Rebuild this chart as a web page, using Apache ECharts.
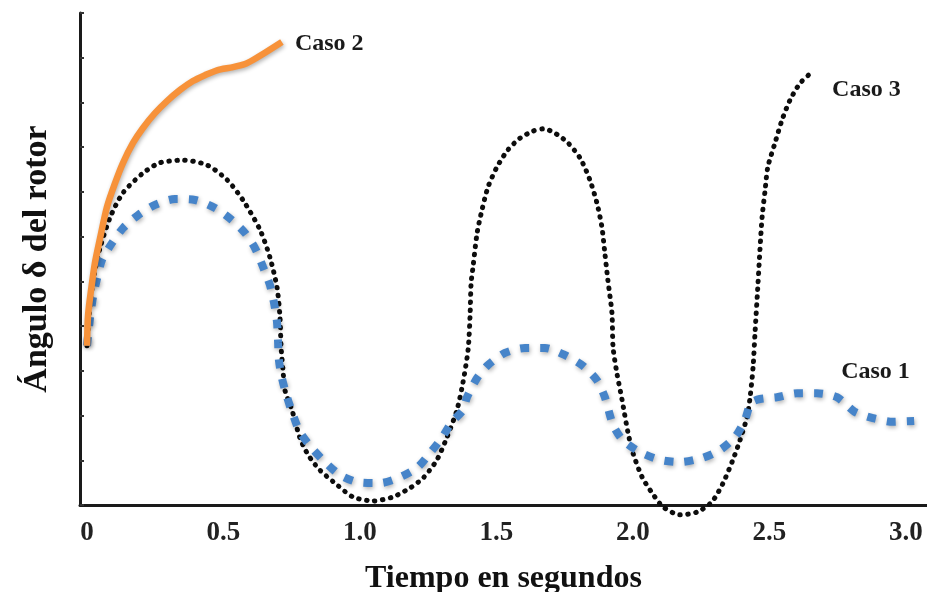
<!DOCTYPE html>
<html><head><meta charset="utf-8">
<script src="https://cdn.jsdelivr.net/npm/echarts@6/dist/echarts.min.js"></script>
<style>html,body{margin:0;padding:0;background:#fff}#c{width:927px;height:592px}</style>
</head><body><div id="c"></div>
<script>
const seriesNames = ['Caso 1', 'Caso 2', 'Caso 3'];
const xTickValues = [0, 0.5, 1, 1.5, 2, 2.5, 3];
const xTickLabels = ['0', '0.5', '1.0', '1.5', '2.0', '2.5', '3.0'];
const xAxisTitle = 'Tiempo en segundos';
const yAxisTitle = 'Ángulo δ del rotor';

const caso1X = [0, 0.011, 0.022, 0.037, 0.055, 0.092, 0.132, 0.187, 0.249, 0.322, 0.396, 0.469, 0.531, 0.579, 0.615, 0.645, 0.670, 0.685, 0.696, 0.700, 0.703, 0.714, 0.733, 0.755, 0.780, 0.824, 0.872, 0.927, 0.993, 1.073, 1.139, 1.209, 1.256, 1.300, 1.337, 1.377, 1.392, 1.429, 1.469, 1.531, 1.604, 1.678, 1.751, 1.817, 1.868, 1.897, 1.927, 1.963, 2.026, 2.099, 2.172, 2.253, 2.319, 2.374, 2.410, 2.432, 2.465, 2.527, 2.601, 2.674, 2.747, 2.813, 2.879, 2.952, 3.030];
const caso1Y = [3.56, 4.18, 4.65, 5.07, 5.48, 5.86, 6.19, 6.48, 6.71, 6.84, 6.82, 6.64, 6.37, 6.08, 5.75, 5.32, 4.92, 4.52, 4.09, 3.64, 3.24, 2.84, 2.41, 2.01, 1.63, 1.27, 0.96, 0.67, 0.51, 0.49, 0.60, 0.83, 1.16, 1.50, 1.86, 2.12, 2.41, 2.84, 3.13, 3.40, 3.51, 3.51, 3.35, 3.11, 2.79, 2.41, 1.79, 1.45, 1.18, 1.01, 0.96, 1.05, 1.23, 1.52, 1.90, 2.28, 2.37, 2.41, 2.50, 2.50, 2.41, 2.08, 1.94, 1.86, 1.88];

const caso2X = [0, 0.004, 0.015, 0.029, 0.048, 0.073, 0.103, 0.132, 0.168, 0.205, 0.249, 0.293, 0.341, 0.388, 0.432, 0.476, 0.535, 0.579, 0.608, 0.652, 0.714];
const caso2Y = [3.56, 4.25, 4.81, 5.41, 5.97, 6.66, 7.20, 7.65, 8.09, 8.43, 8.76, 9.03, 9.28, 9.48, 9.61, 9.72, 9.79, 9.86, 9.95, 10.11, 10.35];

const caso3X = [0, 0.011, 0.026, 0.048, 0.084, 0.132, 0.205, 0.267, 0.352, 0.440, 0.513, 0.571, 0.634, 0.670, 0.696, 0.707, 0.711, 0.718, 0.725, 0.751, 0.780, 0.810, 0.853, 0.916, 0.974, 1.048, 1.121, 1.183, 1.231, 1.282, 1.319, 1.355, 1.377, 1.396, 1.403, 1.407, 1.414, 1.429, 1.447, 1.469, 1.502, 1.542, 1.586, 1.634, 1.670, 1.707, 1.758, 1.806, 1.842, 1.868, 1.886, 1.897, 1.908, 1.923, 1.927, 1.941, 1.960, 1.982, 2.000, 2.033, 2.070, 2.110, 2.172, 2.234, 2.289, 2.330, 2.366, 2.392, 2.418, 2.429, 2.440, 2.447, 2.458, 2.465, 2.473, 2.484, 2.494, 2.520, 2.546, 2.575, 2.612, 2.656];
const caso3Y = [3.56, 4.47, 5.14, 5.75, 6.42, 6.98, 7.42, 7.65, 7.71, 7.60, 7.27, 6.82, 6.15, 5.54, 4.87, 4.20, 3.53, 3.02, 2.57, 2.12, 1.50, 1.12, 0.78, 0.45, 0.18, 0.09, 0.18, 0.38, 0.60, 1.01, 1.52, 2.12, 2.73, 3.47, 4.20, 4.96, 5.32, 6.08, 6.60, 7.11, 7.56, 7.94, 8.20, 8.36, 8.41, 8.34, 8.12, 7.76, 7.27, 6.75, 6.22, 5.63, 5.03, 4.29, 3.53, 2.95, 2.35, 1.61, 1.16, 0.63, 0.27, -0.04, -0.22, -0.16, 0.07, 0.49, 1.01, 1.45, 1.97, 2.41, 3.09, 3.85, 4.96, 5.70, 6.44, 7.04, 7.56, 8.09, 8.61, 9.05, 9.43, 9.68];

const pairs = (xs, ys) => xs.map((x, i) => [x, ys[i]]);
const serif = '"Liberation Serif", "Times New Roman", serif';
const labelStyle = { fontFamily: serif, fontWeight: 'bold', fontSize: 24, color: '#1a1a1a' };

const chart = echarts.init(document.getElementById('c'), null, { renderer: 'canvas' });
chart.setOption({
  backgroundColor: '#ffffff',
  animation: false,
  grid: { left: 80, right: 0, top: 13, bottom: 87, containLabel: false, outerBoundsMode: 'none' },
  xAxis: {
    type: 'value', min: -0.0256, max: 3.077, splitNumber: 6,
    name: xAxisTitle, nameLocation: 'middle', nameGap: 58,
    nameTextStyle: { fontFamily: serif, fontWeight: 'bold', fontSize: 32, color: '#111' },
    axisLine: { onZero: false, lineStyle: { color: '#1a1a1a', width: 3 } },
    axisTick: { show: false },
    splitLine: { show: false },
    axisLabel: {
      margin: 15, fontFamily: serif, fontWeight: 'bold', fontSize: 27, color: '#222',
      formatter: v => { const i = xTickValues.findIndex(t => Math.abs(t - v) < 1e-6); return i >= 0 ? xTickLabels[i] : ''; }
    }
  },
  yAxis: {
    type: 'value', min: 0, max: 11, interval: 1,
    name: yAxisTitle, nameLocation: 'middle', nameGap: 26, nameRotate: 90,
    nameTextStyle: { fontFamily: serif, fontWeight: 'bold', fontSize: 34, color: '#111' },
    axisLine: { onZero: false, lineStyle: { color: '#1a1a1a', width: 3 } },
    axisTick: { show: true, inside: true, length: 4, lineStyle: { color: '#333', width: 2 } },
    axisLabel: { show: false },
    splitLine: { show: false }
  },
  series: [
    {
      name: seriesNames[2], type: 'line', data: pairs(caso3X, caso3Y), symbol: 'none', smooth: 0.25, clip: false, z: 2,
      lineStyle: { color: '#0d0d0d', width: 5, type: [0.5, 7.5], cap: 'round' },
      endLabel: { show: true, formatter: seriesNames[2], distance: 20, offset: [0, 18], ...labelStyle }
    },
    {
      name: seriesNames[0], type: 'line', data: pairs(caso1X, caso1Y), symbol: 'none', smooth: 0.25, clip: false, z: 3,
      lineStyle: { color: '#4684c9', width: 8, type: [9, 11], shadowColor: 'rgba(0,0,0,0.3)', shadowBlur: 4, shadowOffsetX: 1, shadowOffsetY: 2 },
      endLabel: { show: true, formatter: seriesNames[0], distance: 8, offset: [-81, -49], ...labelStyle }
    },
    {
      name: seriesNames[1], type: 'line', data: pairs(caso2X, caso2Y), symbol: 'none', smooth: 0.25, clip: false, z: 4,
      lineStyle: { color: '#f7923a', width: 6.5, shadowColor: 'rgba(0,0,0,0.3)', shadowBlur: 4, shadowOffsetX: 1, shadowOffsetY: 2 },
      endLabel: { show: true, formatter: seriesNames[1], distance: 13, offset: [0, 2], ...labelStyle }
    }
  ]
});
</script>
</body></html>
